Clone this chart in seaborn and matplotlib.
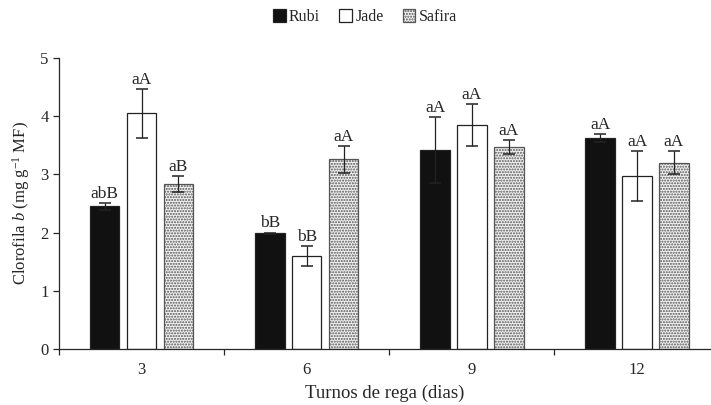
import matplotlib
matplotlib.use("Agg")
import matplotlib.pyplot as plt
import seaborn as sns
import pandas as pd

# irrigation intervals (days) and cultivars
turnos = ["3", "6", "9", "12"]
cultivares = ["Rubi", "Jade", "Safira"]

# chlorophyll b means and error
rubi = [2.45, 1.99, 3.42, 3.62]
jade = [4.05, 1.60, 3.85, 2.97]
safira = [2.83, 3.26, 3.47, 3.20]
rubi_err = [0.06, 0.01, 0.57, 0.07]
jade_err = [0.42, 0.17, 0.36, 0.43]
safira_err = [0.14, 0.23, 0.12, 0.20]

# letters of the mean comparison test
rubi_lbl = ["abB", "bB", "aA", "aA"]
jade_lbl = ["aA", "bB", "aA", "aA"]
safira_lbl = ["aB", "aA", "aA", "aA"]

df = pd.DataFrame({
    "turno": turnos * 3,
    "cultivar": [c for c in cultivares for _ in turnos],
    "valor": rubi + jade + safira,
})
erros = {"Rubi": rubi_err, "Jade": jade_err, "Safira": safira_err}
letras = {"Rubi": rubi_lbl, "Jade": jade_lbl, "Safira": safira_lbl}

sns.set_style("ticks")
plt.rcParams["font.family"] = ["Liberation Serif", "DejaVu Serif"]
plt.rcParams["mathtext.fontset"] = "custom"
plt.rcParams["mathtext.rm"] = "Liberation Serif"
plt.rcParams["mathtext.it"] = "Liberation Serif:italic"

fig = plt.figure(figsize=(7.11, 4.05), dpi=100)
ax = fig.add_axes([59 / 711, 1 - 349 / 405, 1 - 59 / 711, (349 - 58) / 405])

sns.barplot(data=df, x="turno", y="valor", hue="cultivar", order=turnos,
            hue_order=cultivares, palette=["#111111", "white", "#eeeeee"],
            width=0.67, gap=0.2, errorbar=None, legend=False, ax=ax,
            edgecolor="black", linewidth=0.9)

estilos = {
    "Rubi": dict(facecolor="#111111", edgecolor="#222222", hatch=None),
    "Jade": dict(facecolor="white", edgecolor="#222222", hatch=None),
    "Safira": dict(facecolor="#f2f2f2", edgecolor="#555555", hatch="......"),
}

for cont, cult in zip(ax.containers, cultivares):
    xs, ys = [], []
    for p in cont.patches:
        st = estilos[cult]
        p.set_facecolor(st["facecolor"])
        p.set_edgecolor(st["edgecolor"])
        if st["hatch"]:
            p.set_hatch(st["hatch"])
        xs.append(p.get_x() + p.get_width() / 2)
        ys.append(p.get_height())
    ax.errorbar(xs, ys, yerr=erros[cult], fmt="none", ecolor="#222222",
                elinewidth=0.9, capsize=4, capthick=1.1)
    for x, y, e, t in zip(xs, ys, erros[cult], letras[cult]):
        ax.text(x, y + e + 0.02, t, ha="center", va="bottom", fontsize=12.5)

ax.set_ylim(0, 5)
ax.set_xlim(-0.5, 3 + (711 - 637) / 165.3)
ax.set_yticks([0, 1, 2, 3, 4, 5])
ax.tick_params(axis="y", labelsize=12, length=4, width=0.9, direction="out")
ax.tick_params(axis="x", which="major", length=0, labelsize=12, pad=9)
ax.set_xticks([-0.5, 0.5, 1.5, 2.5], minor=True)
ax.tick_params(axis="x", which="minor", length=4, width=0.9, direction="out")
sns.despine(ax=ax, top=True, right=True)
ax.spines["left"].set_linewidth(0.9)
ax.spines["bottom"].set_linewidth(0.9)

ax.set_xlabel("Turnos de rega (dias)", fontsize=13.5, labelpad=5)
ax.set_ylabel("Clorofila $\\it{b}$ (mg g$^{-1}$ MF)", fontsize=12, labelpad=6)

fig.legend(ax.containers, cultivares, loc="center", ncol=3,
           bbox_to_anchor=(365 / 711, 1 - 17 / 405), frameon=False,
           fontsize=11.5, handlelength=0.8, handleheight=0.8,
           handletextpad=0.2, columnspacing=1.2)

fig.savefig("out.png", dpi=100)
